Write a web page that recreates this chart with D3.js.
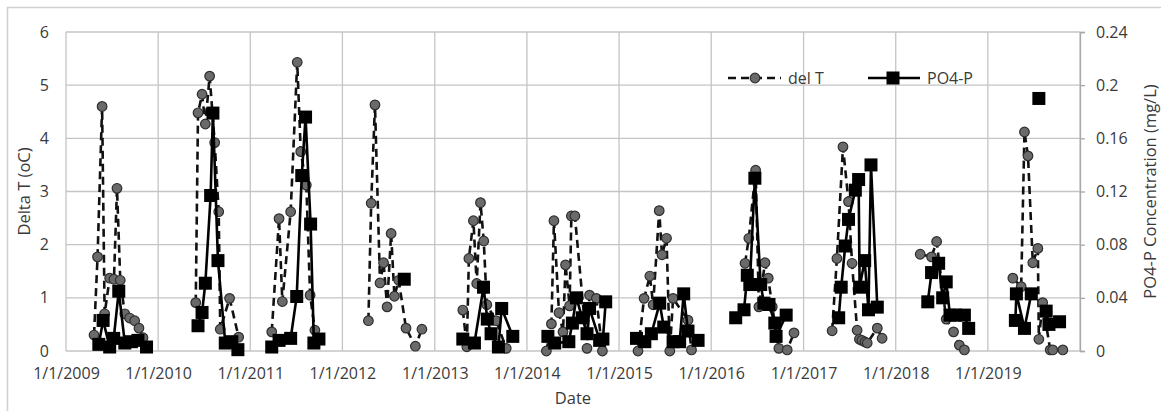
<!DOCTYPE html>
<html>
<head>
<meta charset="utf-8">
<script src="https://cdn.jsdelivr.net/npm/d3@7"></script>
<style>
  body { margin: 0; background: #fff; }
  text { font-family: "Open Sans", "Noto Sans", sans-serif; fill: #3a3a3a; }
  .grid line { stroke: #c4c4c4; stroke-width: 1.3; }
</style>
</head>
<body>
<div id="chart"></div>
<script>
// del T samples (date, oC); null = break between seasons
const delT = [
  ["2009-04-22", 0.30], ["2009-05-06", 1.77], ["2009-05-24", 4.60], ["2009-06-03", 0.70], ["2009-06-23", 1.37],
  ["2009-07-10", 1.35], ["2009-07-22", 3.06], ["2009-08-04", 1.33], ["2009-08-22", 0.70], ["2009-09-10", 0.62],
  ["2009-09-30", 0.57], ["2009-10-17", 0.43], ["2009-11-02", 0.25], null,
  ["2010-05-30", 0.91], ["2010-06-08", 4.48], ["2010-06-24", 4.83], ["2010-07-07", 4.27], ["2010-07-24", 5.17],
  ["2010-08-13", 3.92], ["2010-08-29", 2.62], ["2010-09-04", 0.41], ["2010-10-11", 0.99], ["2010-11-16", 0.26], null,
  ["2011-03-27", 0.36], ["2011-04-25", 2.49], ["2011-05-08", 0.93], ["2011-06-10", 2.62], ["2011-07-06", 5.43],
  ["2011-07-20", 3.75], ["2011-08-11", 3.12], ["2011-08-26", 1.05], ["2011-09-14", 0.39], null,
  ["2012-04-13", 0.57], ["2012-04-24", 2.78], ["2012-05-09", 4.63], ["2012-05-29", 1.28], ["2012-06-12", 1.66],
  ["2012-06-26", 0.83], ["2012-07-12", 2.21], ["2012-07-25", 1.03], ["2012-08-11", 1.33], ["2012-09-09", 0.43],
  ["2012-10-16", 0.09], ["2012-11-11", 0.41], null,
  ["2013-04-22", 0.77], ["2013-05-08", 0.08], ["2013-05-16", 1.74], ["2013-06-03", 2.45], ["2013-06-16", 1.27],
  ["2013-07-01", 2.79], ["2013-07-14", 2.07], ["2013-07-26", 0.87], ["2013-09-01", 0.57], ["2013-10-11", 0.05], null,
  ["2014-03-19", 0.00], ["2014-04-08", 0.51], ["2014-04-18", 2.45], ["2014-05-08", 0.72], ["2014-05-24", 0.36],
  ["2014-06-03", 1.62], ["2014-06-19", 0.85], ["2014-06-26", 2.54], ["2014-07-10", 2.54], ["2014-08-27", 0.05],
  ["2014-09-06", 1.05], ["2014-10-03", 0.99], ["2014-10-27", 0.00], null,
  ["2015-03-17", 0.00], ["2015-04-10", 0.99], ["2015-05-03", 1.41], ["2015-05-16", 0.87], ["2015-06-09", 2.64],
  ["2015-06-20", 1.81], ["2015-07-08", 2.12], ["2015-07-21", 0.00], ["2015-08-03", 0.99], ["2015-10-01", 0.58],
  ["2015-10-15", 0.02], null,
  ["2016-05-14", 1.65], ["2016-05-29", 2.12], ["2016-06-25", 3.40], ["2016-07-08", 0.83], ["2016-08-01", 1.66],
  ["2016-08-14", 1.37], ["2016-08-30", 0.83], ["2016-09-25", 0.05], ["2016-10-28", 0.02], ["2016-11-24", 0.34], null,
  ["2017-04-24", 0.38], ["2017-05-13", 1.74], ["2017-06-06", 3.84], ["2017-06-28", 2.81], ["2017-07-12", 1.65],
  ["2017-08-01", 0.39], ["2017-08-10", 0.22], ["2017-08-20", 0.20], ["2017-09-01", 0.17], ["2017-09-10", 0.15],
  ["2017-10-20", 0.43], ["2017-11-08", 0.24], null,
  ["2018-04-08", 1.82], ["2018-05-23", 1.77], ["2018-06-12", 2.06], ["2018-07-20", 0.60], ["2018-08-18", 0.36],
  ["2018-09-10", 0.11], ["2018-09-30", 0.02], null,
  ["2019-04-10", 1.37], ["2019-05-13", 1.21], ["2019-05-26", 4.12], ["2019-06-09", 3.67], ["2019-06-28", 1.66],
  ["2019-07-18", 1.93], ["2019-07-22", 0.22], ["2019-08-06", 0.91], ["2019-09-05", 0.02], ["2019-09-15", 0.02],
  ["2019-10-25", 0.02]
];

// PO4-P samples (date, mg/L); null = break
const po4 = [
  ["2009-05-11", 0.005], ["2009-05-28", 0.023], ["2009-06-23", 0.003], ["2009-07-09", 0.0095], ["2009-07-29", 0.045],
  ["2009-08-22", 0.006], ["2009-09-17", 0.007], ["2009-10-13", 0.008], ["2009-11-16", 0.003], null,
  ["2010-06-08", 0.019], ["2010-06-24", 0.029], ["2010-07-07", 0.051], ["2010-07-28", 0.117], ["2010-08-06", 0.179],
  ["2010-08-26", 0.068], ["2010-09-24", 0.006], ["2010-10-20", 0.007], ["2010-11-13", 0.001], null,
  ["2011-03-27", 0.003], ["2011-04-25", 0.008], ["2011-06-10", 0.0095], ["2011-07-04", 0.041], ["2011-07-24", 0.132],
  ["2011-08-08", 0.176], ["2011-08-28", 0.0955], ["2011-09-10", 0.006], ["2011-09-30", 0.009], null,
  ["2012-09-02", 0.054], null,
  ["2013-04-22", 0.009], ["2013-06-07", 0.006], ["2013-07-13", 0.048], ["2013-07-28", 0.024], ["2013-08-12", 0.013],
  ["2013-09-10", 0.003], ["2013-09-23", 0.032], ["2013-11-06", 0.011], null,
  ["2014-03-25", 0.011], ["2014-04-21", 0.006], ["2014-06-16", 0.007], ["2014-06-30", 0.021], ["2014-07-16", 0.040],
  ["2014-08-08", 0.025], ["2014-08-27", 0.013], ["2014-09-06", 0.032], ["2014-10-16", 0.008], ["2014-10-29", 0.009],
  ["2014-11-09", 0.037], null,
  ["2015-03-11", 0.0095], ["2015-04-13", 0.007], ["2015-05-09", 0.013], ["2015-06-11", 0.036], ["2015-06-27", 0.018],
  ["2015-08-03", 0.007], ["2015-08-29", 0.007], ["2015-09-14", 0.043], ["2015-10-01", 0.015], ["2015-11-10", 0.008], null,
  ["2016-04-07", 0.025], ["2016-05-10", 0.031], ["2016-05-23", 0.057], ["2016-06-02", 0.050], ["2016-06-22", 0.130],
  ["2016-07-15", 0.050], ["2016-07-28", 0.036], ["2016-08-17", 0.035], ["2016-09-09", 0.021], ["2016-09-14", 0.011],
  ["2016-10-24", 0.027], null,
  ["2017-05-20", 0.025], ["2017-05-30", 0.048], ["2017-06-15", 0.079], ["2017-06-28", 0.099], ["2017-07-25", 0.121],
  ["2017-08-07", 0.129], ["2017-08-11", 0.048], ["2017-08-31", 0.068], ["2017-09-15", 0.031], ["2017-09-25", 0.140],
  ["2017-10-20", 0.033], null,
  ["2018-05-08", 0.037], ["2018-05-23", 0.059], ["2018-06-20", 0.066], ["2018-07-06", 0.040], ["2018-07-20", 0.052],
  ["2018-08-04", 0.027], ["2018-08-26", 0.027], ["2018-09-30", 0.027], ["2018-10-17", 0.017], null,
  ["2019-04-20", 0.023], ["2019-04-24", 0.043], ["2019-05-26", 0.017], ["2019-06-22", 0.043], null,
  ["2019-07-22", 0.190], null,
  ["2019-08-20", 0.030], ["2019-08-31", 0.020], ["2019-10-12", 0.022]
];

const yearTicks = [2009, 2010, 2011, 2012, 2013, 2014, 2015, 2016, 2017, 2018, 2019, 2020];
const leftTicks = [0, 1, 2, 3, 4, 5, 6];
const rightTicks = [0, 0.04, 0.08, 0.12, 0.16, 0.2, 0.24];

const W = 1161, H = 411;
const plot = { left: 66, right: 1080, top: 32, bottom: 351 };
const parse = d3.timeParse("%Y-%m-%d");
const fontSize = 16;

const svg = d3.select("#chart").append("svg").attr("width", W).attr("height", H);

// outer chart frame
svg.append("rect")
  .attr("x", 7.5).attr("y", 7.5)
  .attr("width", W).attr("height", H)
  .attr("fill", "none").attr("stroke", "#d0d0d0").attr("stroke-width", 1.5);

// scales
const x = d3.scaleTime()
  .domain([new Date(2009, 0, 1), new Date(2020, 0, 1)])
  .range([plot.left, plot.right]);
const yL = d3.scaleLinear().domain([0, 6]).range([plot.bottom, plot.top]);
const yR = d3.scaleLinear().domain([0, 0.24]).range([plot.bottom, plot.top]);

const yearDates = yearTicks.map((y) => new Date(y, 0, 1));

// gridlines
const grid = svg.append("g").attr("class", "grid");
grid.selectAll(".h").data(leftTicks).enter().append("line")
  .attr("x1", plot.left).attr("x2", plot.right)
  .attr("y1", (d) => yL(d)).attr("y2", (d) => yL(d));
grid.selectAll(".v").data(yearDates).enter().append("line")
  .attr("x1", (d) => x(d)).attr("x2", (d) => x(d))
  .attr("y1", plot.top).attr("y2", plot.bottom);

// x axis labels
const xAxisG = svg.append("g").attr("transform", `translate(0,${plot.bottom})`);
xAxisG.call(
  d3.axisBottom(x)
    .tickValues(yearDates.slice(0, -1))
    .tickFormat(d3.timeFormat("%-m/%-d/%Y"))
    .tickSize(0)
    .tickPadding(17)
);
xAxisG.select(".domain").remove();
xAxisG.selectAll("text").attr("font-size", fontSize).attr("fill", "#3a3a3a").attr("font-family", null);

// left axis labels
const yAxisL = svg.append("g").attr("transform", `translate(${plot.left},0)`);
yAxisL.call(d3.axisLeft(yL).tickValues(leftTicks).tickFormat(d3.format("d")).tickSize(0).tickPadding(17));
yAxisL.select(".domain").remove();
yAxisL.selectAll("text").attr("font-size", fontSize).attr("fill", "#3a3a3a").attr("font-family", null);

// right axis with small outer ticks
const yAxisR = svg.append("g").attr("transform", `translate(${plot.right},0)`);
yAxisR.call(
  d3.axisRight(yR).tickValues(rightTicks).tickSize(5).tickPadding(11)
    .tickFormat((d) => d3.format("~g")(d))
);
yAxisR.selectAll("line, .domain").attr("stroke", "#a8a8a8").attr("stroke-width", 1.3);
yAxisR.selectAll("text").attr("font-size", fontSize).attr("fill", "#3a3a3a").attr("font-family", null);

// axis titles
svg.append("text")
  .attr("text-anchor", "middle")
  .attr("transform", `translate(30,${(plot.top + plot.bottom) / 2}) rotate(-90)`)
  .attr("font-size", 16.5)
  .text("Delta T (oC)");
svg.append("text")
  .attr("text-anchor", "middle")
  .attr("transform", `translate(1156,${(plot.top + plot.bottom) / 2}) rotate(-90)`)
  .attr("font-size", 16.5)
  .text("PO4-P Concentration (mg/L)");
svg.append("text")
  .attr("text-anchor", "middle")
  .attr("x", 573).attr("y", 404)
  .attr("font-size", 16.5)
  .text("Date");

// turn [date, value] pairs into objects, keeping breaks
const toPoints = (arr) => arr.map((d) => (d ? { date: parse(d[0]), value: d[1] } : null));
const delTPts = toPoints(delT);
const po4Pts = toPoints(po4);

const delTLine = d3.line()
  .defined((d) => d !== null)
  .x((d) => x(d.date))
  .y((d) => yL(d.value));
const po4Line = d3.line()
  .defined((d) => d !== null)
  .x((d) => x(d.date))
  .y((d) => yR(d.value));

// del T: dashed line + grey circles
svg.append("path")
  .attr("d", delTLine(delTPts))
  .attr("fill", "none")
  .attr("stroke", "#111")
  .attr("stroke-width", 2.6)
  .attr("stroke-dasharray", "8,5");
svg.append("g").selectAll("circle")
  .data(delTPts.filter((d) => d))
  .enter().append("circle")
  .attr("cx", (d) => x(d.date))
  .attr("cy", (d) => yL(d.value))
  .attr("r", 4.8)
  .attr("fill", "#6a6a6a")
  .attr("stroke", "#2e2e2e")
  .attr("stroke-width", 1.2);

// PO4-P: solid line + black squares
const sq = 13;
svg.append("path")
  .attr("d", po4Line(po4Pts))
  .attr("fill", "none")
  .attr("stroke", "#000")
  .attr("stroke-width", 2.6);
svg.append("g").selectAll("rect")
  .data(po4Pts.filter((d) => d))
  .enter().append("rect")
  .attr("x", (d) => x(d.date) - sq / 2)
  .attr("y", (d) => yR(d.value) - sq / 2)
  .attr("width", sq).attr("height", sq)
  .attr("fill", "#000");

// legend
const legend = svg.append("g").attr("transform", "translate(0,78)");
legend.append("line")
  .attr("x1", 728).attr("x2", 781).attr("y1", 0).attr("y2", 0)
  .attr("stroke", "#111").attr("stroke-width", 2.6).attr("stroke-dasharray", "8,5");
legend.append("circle")
  .attr("cx", 755).attr("cy", 0).attr("r", 4.8)
  .attr("fill", "#6a6a6a").attr("stroke", "#2e2e2e").attr("stroke-width", 1.2);
legend.append("text").attr("x", 788).attr("y", 6).attr("font-size", fontSize).text("del T");
legend.append("line")
  .attr("x1", 868).attr("x2", 920).attr("y1", 0).attr("y2", 0)
  .attr("stroke", "#000").attr("stroke-width", 2.6);
legend.append("rect")
  .attr("x", 893 - sq / 2).attr("y", -sq / 2).attr("width", sq).attr("height", sq)
  .attr("fill", "#000");
legend.append("text").attr("x", 927).attr("y", 6).attr("font-size", fontSize).text("PO4-P");
</script>
</body>
</html>
